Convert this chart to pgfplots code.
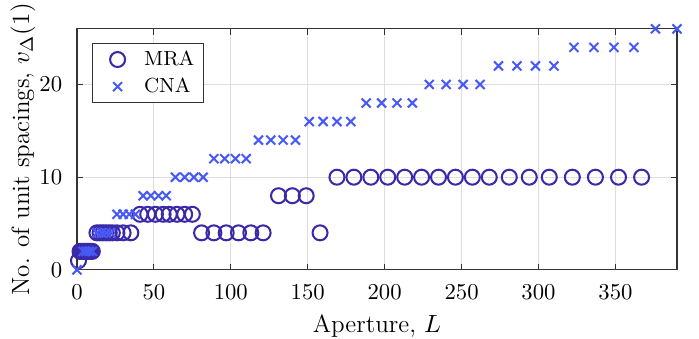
\documentclass[border=0pt]{standalone}
\usepackage{pgfplots}
\pgfplotsset{compat=1.18}
\definecolor{mra}{RGB}{58,42,168}
\definecolor{cna}{RGB}{72,90,245}
\begin{document}
\begin{tikzpicture}
\path[use as bounding box] (-33.9pt,-30.4pt) rectangle (274.0pt,118.9pt);
\begin{axis}[
  at={(0,0)}, anchor=south west,
  scale only axis, width=264.3pt, height=106.2pt,
  xmin=0, xmax=390, ymin=0, ymax=26,
  xtick={0,50,...,350}, ytick={0,10,20},
  tick align=inside, major tick length=2.6pt,
  grid=major, major grid style={line width=0.4pt, draw=black!13},
  axis line style={draw=black!80, line width=0.5pt},
  every tick/.style={draw=black!80, line width=0.5pt},
  tick label style={font=\fontsize{10}{12}\selectfont},
  xticklabel style={yshift=-3pt},
  yticklabel style={xshift=-3pt},
  xlabel={Aperture, $L$},
  ylabel={No. of unit spacings, $v_\Delta(1)$},
  label style={font=\fontsize{11}{13}\selectfont},
  xlabel style={at={(axis description cs:0.5,0)}, anchor=center, yshift=-24.7pt},
  ylabel style={at={(axis description cs:0,0.5)}, anchor=center, yshift=23.8pt},
  clip=false,
  legend cell align=left,
  legend style={at={(0,1)}, anchor=north west, xshift=6.6pt, yshift=-6.3pt,
    draw=black!80, line width=0.5pt, font=\fontsize{9}{11}\selectfont,
    row sep=1pt, inner xsep=2pt, inner ysep=1.5pt, nodes={inner ysep=1.5pt}},
  legend image code/.code={\path (-8.6pt,0pt) (9.2pt,0pt); \draw[#1] plot coordinates {(0pt,0pt)};},
]
\addplot[only marks, mark=o, mark size=3.3pt, draw=mra, line width=0.9pt] coordinates {
(1,1)
(2,2)(3,2)(4,2)(5,2)(6,2)(7,2)(8,2)(9,2)(10,2)
(13,4)(15,4)(17,4)(19,4)(21,4)(23,4)(26,4)(30,4)(35,4)
(41,6)(46,6)(51,6)(56,6)(60,6)(65,6)(70,6)(75,6)
(81,4)(89,4)(97,4)(105,4)(113,4)(121,4)
(131,8)(140,8)(149,8)
(158,4)
(169,10)(180,10)(191,10)(202,10)(213,10)(224,10)(235,10)(246,10)(257,10)(268,10)
(281,10)(294,10)(307,10)(322,10)(337,10)(352,10)(367,10)
};
\addlegendentry{MRA}
\addplot[only marks, mark=x, mark size=2.8pt, draw=cna, line width=0.9pt] coordinates {
(0,0)
(4,2)(6,2)(8,2)(10,2)
(13,4)(16,4)(19,4)(22,4)
(26,6)(30,6)(34,6)(38,6)
(43,8)(48,8)(53,8)(58,8)
(64,10)(70,10)(76,10)(82,10)
(89,12)(96,12)(103,12)(110,12)
(118,14)(126,14)(134,14)(142,14)
(151,16)(160,16)(169,16)(178,16)
(188,18)(198,18)(208,18)(218,18)
(229,20)(240,20)(251,20)(262,20)
(274,22)(286,22)(298,22)(310,22)
(323,24)(336,24)(349,24)(362,24)
(376,26)(390,26)
};
\addlegendentry{CNA}
\end{axis}
\end{tikzpicture}
\end{document}
